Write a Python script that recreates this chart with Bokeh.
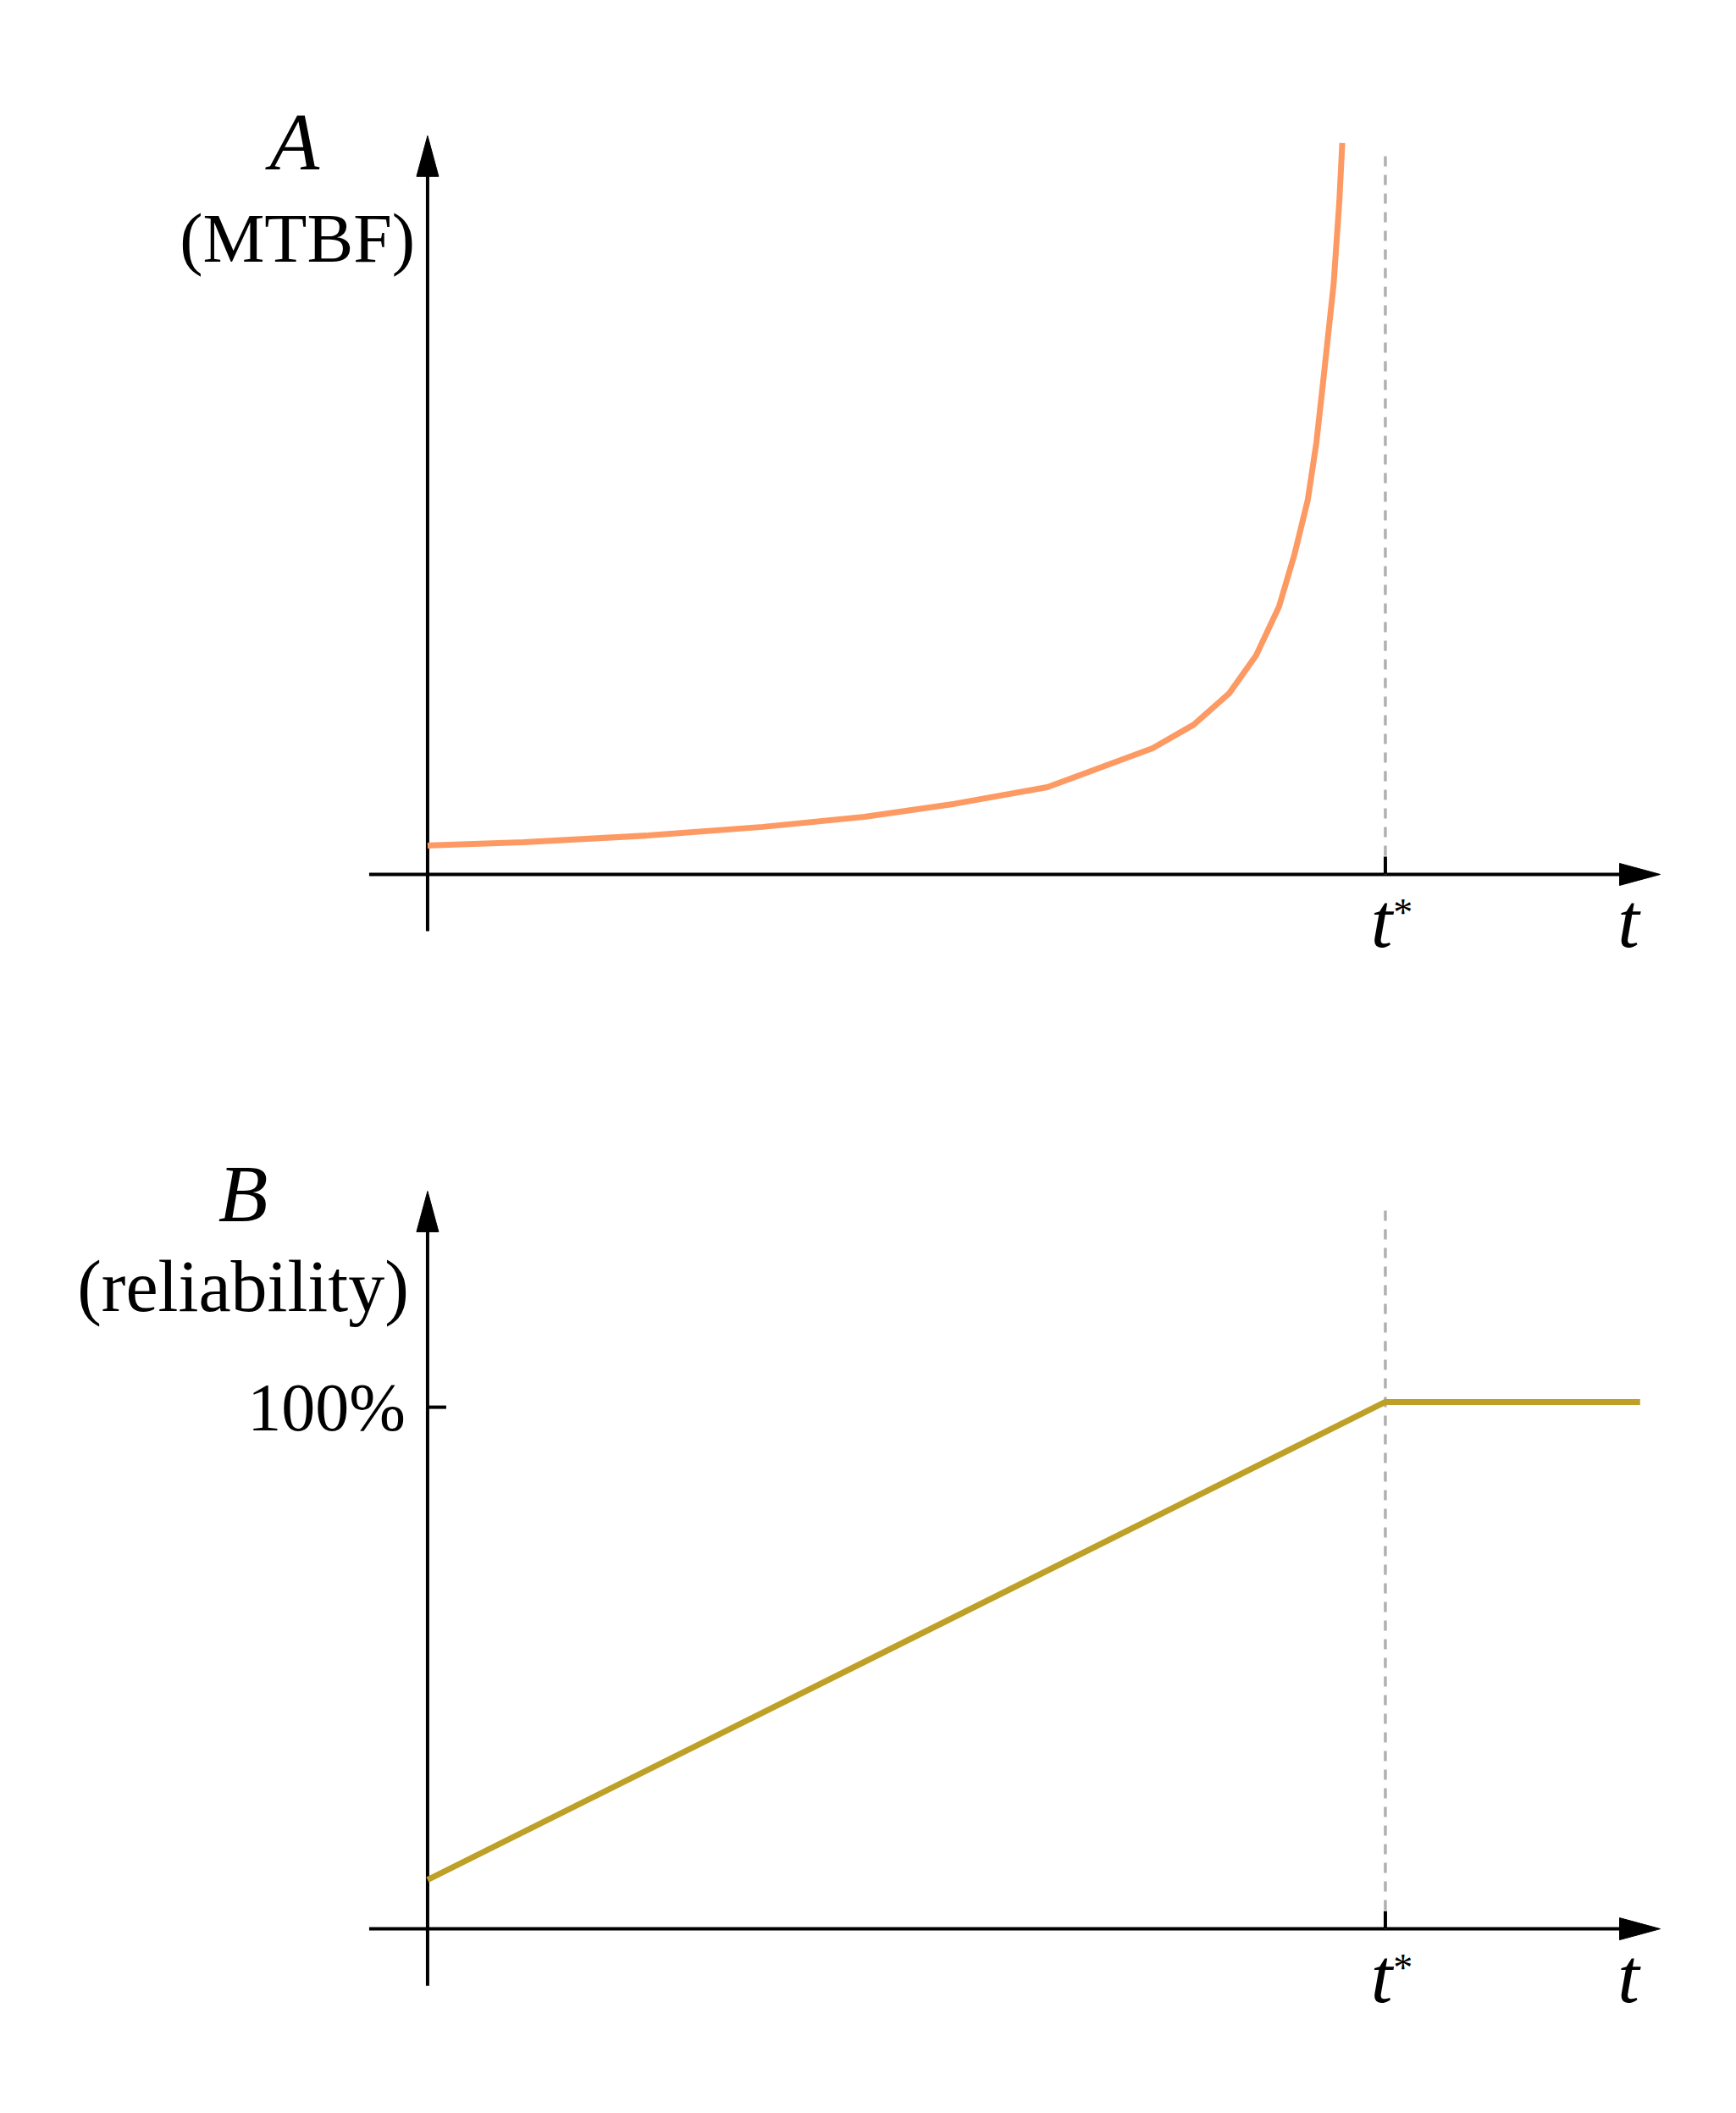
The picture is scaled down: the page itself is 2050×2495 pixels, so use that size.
from bokeh.plotting import figure
from bokeh.models import Range1d, Label
from bokeh.layouts import column
from bokeh.embed import file_html
from bokeh.resources import INLINE

# panel A: MTBF grows and blows up close to t*
t_mtbf = [0, 0.1, 0.23, 0.35, 0.456, 0.55, 0.647, 0.757, 0.8, 0.837, 0.865, 0.889,
          0.905, 0.919, 0.928, 0.935, 0.946, 0.952, 0.955]
a_mtbf = [1.0, 1.12, 1.35, 1.65, 2.0, 2.45, 3.03, 4.38, 5.2, 6.29, 7.6, 9.3,
          11.1, 13.0, 15.0, 17.1, 20.5, 23.4, 25.4]

# panel B: reliability rises linearly until t*, then stays at 100%
t_rel = [0, 1.0, 1.266]
b_rel = [9.4, 101, 101]

t_star = 1.0
b_ticks = [100]
b_tick_labels = ["100%"]

SERIF = "Liberation Serif"
W, H = 2034, 1240
X_RANGE = (-0.446, 1.3524)


def make_panel(y_lo, y_hi):
    p = figure(width=W, height=H,
               x_range=Range1d(*X_RANGE), y_range=Range1d(y_lo, y_hi),
               x_axis_location=None, y_axis_location=None,
               toolbar_location=None, output_backend="svg",
               min_border=0, outline_line_color=None)
    p.grid.visible = False
    return p


def draw_axes(p, y_bottom, y_top, x_left, x_right, dash_top):
    # pixels per data unit, to shape the arrow heads
    sx = W / (X_RANGE[1] - X_RANGE[0])
    sy = H / (p.y_range.end - p.y_range.start)
    head_len, head_half = 48, 13

    # vertical axis with arrow
    p.line([0, 0], [y_bottom, y_top - head_len / sy * 0.5], line_color="black", line_width=4)
    p.patch([-head_half / sx, 0, head_half / sx],
            [y_top - head_len / sy, y_top, y_top - head_len / sy],
            fill_color="black", line_color="black", line_width=1)
    # horizontal axis with arrow
    p.line([x_left, x_right - head_len / sx * 0.5], [0, 0], line_color="black", line_width=4)
    p.patch([x_right - head_len / sx, x_right, x_right - head_len / sx],
            [head_half / sy, 0, -head_half / sy],
            fill_color="black", line_color="black", line_width=1)

    # t* marker: dashed guide and small tick
    p.line([t_star, t_star], [0, dash_top], line_color="#b0b0b0", line_width=3.5, line_dash="12 10")
    p.line([t_star, t_star], [0, 21 / sy], line_color="black", line_width=4)

    # t* and t labels under the axis
    base = -55 / sy
    p.add_layout(Label(x=t_star - 0.004, y=base, text="t", text_font=SERIF,
                       text_font_style="italic", text_font_size="92px", text_color="black",
                       text_align="center", text_baseline="alphabetic"))
    p.add_layout(Label(x=t_star + 0.0185, y=-20 / sy, text="*", text_font=SERIF,
                       text_font_size="46px", text_color="black",
                       text_align="center", text_baseline="top"))
    p.add_layout(Label(x=1.2538, y=base, text="t", text_font=SERIF,
                       text_font_style="italic", text_font_size="92px", text_color="black",
                       text_align="center", text_baseline="alphabetic"))
    return sx, sy


# ---- top panel ----
p1 = make_panel(-6.118, 30.35)
draw_axes(p1, -1.97, 25.65, -0.061, 1.287, 25.18)
p1.line(t_mtbf, a_mtbf, line_color="#fd9a64", line_width=7)
p1.add_layout(Label(x=-0.1388, y=25.44, text="A", text_font=SERIF,
                    text_font_style="italic", text_font_size="96px", text_color="black",
                    text_align="center", text_baseline="alphabetic"))
p1.add_layout(Label(x=-0.136, y=22.09, text="(MTBF)", text_font=SERIF,
                    text_font_size="82px", text_color="black",
                    text_align="center", text_baseline="alphabetic"))

# ---- bottom panel ----
p2 = make_panel(-32.94, 168.36)
sx2, sy2 = draw_axes(p2, -10.9, 141.4, -0.061, 1.287, 138.8)
p2.line(t_rel, b_rel, line_color="#bfa026", line_width=7)
for tk, lab in zip(b_ticks, b_tick_labels):
    p2.line([0, 22 / sx2], [tk, tk], line_color="black", line_width=4)
    p2.add_layout(Label(x=-26 / sx2, y=tk, text=lab, text_font=SERIF,
                        text_font_size="80px", text_color="black",
                        text_align="right", text_baseline="middle"))
p2.add_layout(Label(x=-0.1927, y=140.9, text="B", text_font=SERIF,
                    text_font_style="italic", text_font_size="96px", text_color="black",
                    text_align="center", text_baseline="alphabetic"))
p2.add_layout(Label(x=-0.1927, y=123.2, text="(reliability)", text_font=SERIF,
                    text_font_size="86px", text_color="black",
                    text_align="center", text_baseline="alphabetic"))

layout = column(p1, p2, spacing=0)
open("out.html", "w").write(file_html(layout, INLINE))
